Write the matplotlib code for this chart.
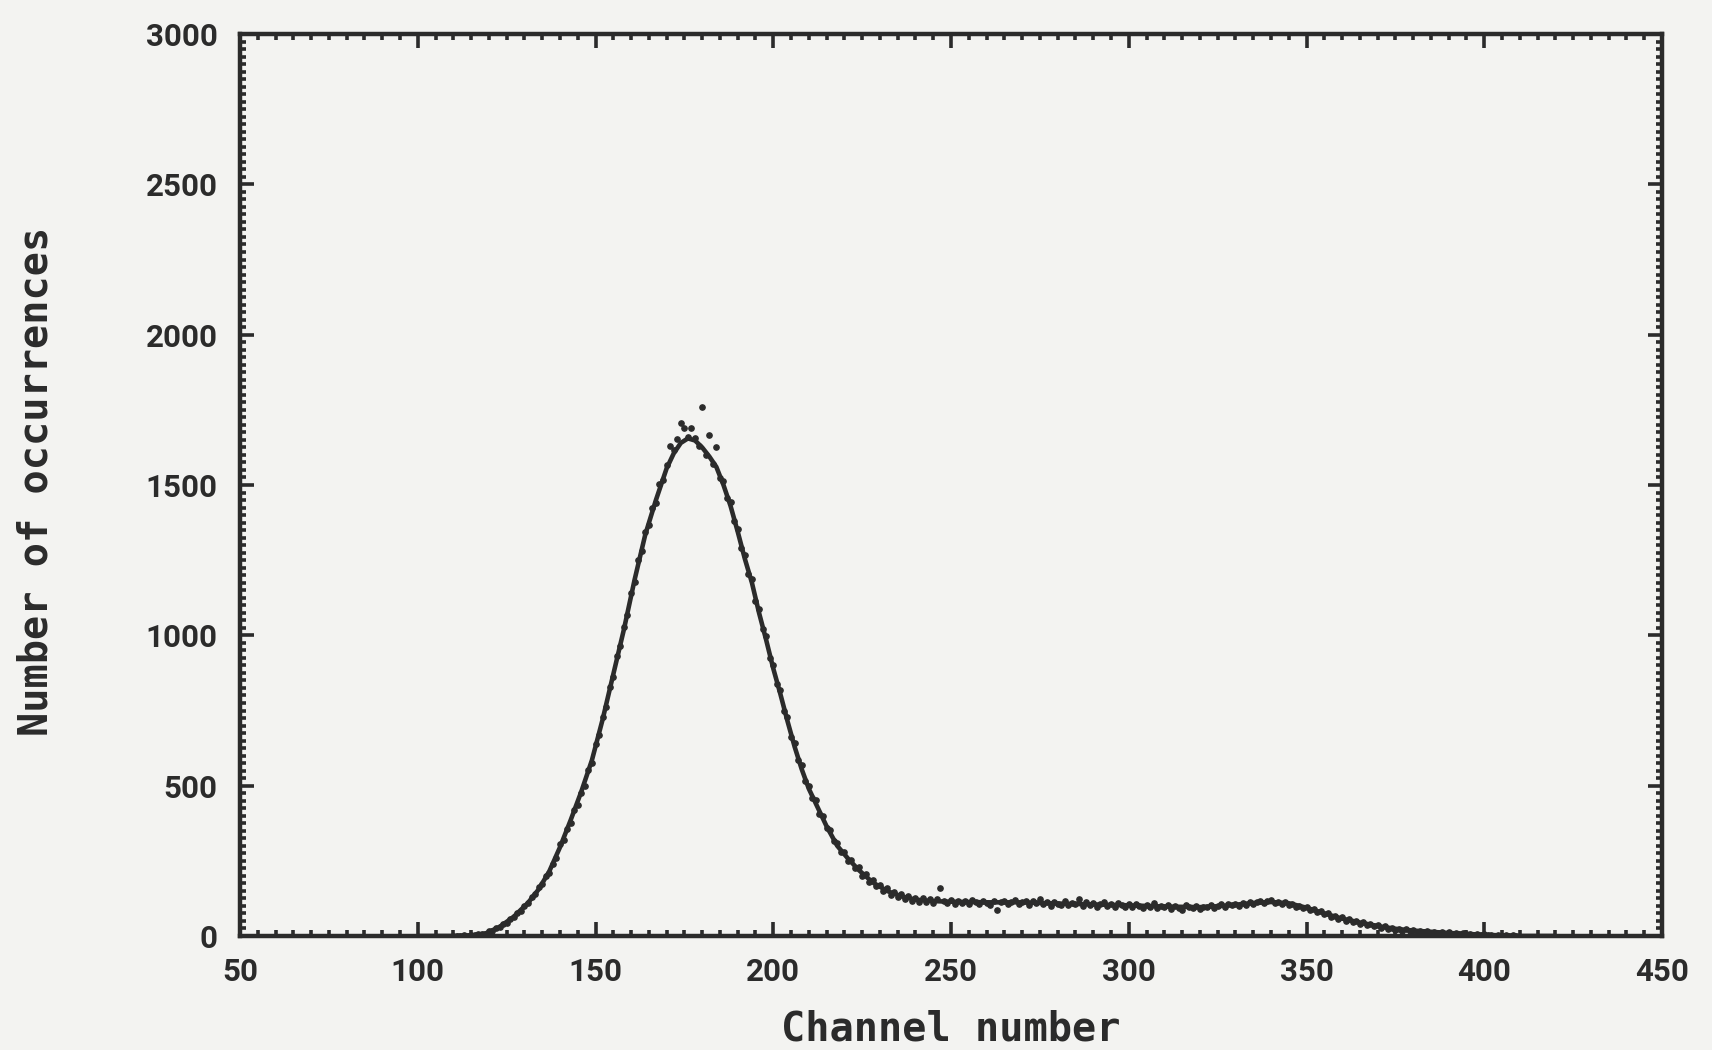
import numpy as np
import matplotlib
matplotlib.use("Agg")
import matplotlib.pyplot as plt
from matplotlib.ticker import MultipleLocator

# Fitted spectrum: channel -> count
fit_channels = [100, 110, 115, 119, 123, 127, 131, 134, 137, 140, 143, 146, 149,
                152, 155, 158, 161, 164, 167, 170, 172, 174, 176, 178, 180, 182,
                184, 186, 188, 190, 192, 194, 196, 198, 200, 202, 204, 206, 208,
                210, 212, 215, 218, 221, 224, 228, 232, 236, 240, 245, 250, 260,
                270, 280, 290, 300, 310, 320, 325, 330, 335, 340, 345, 350, 355,
                360, 365, 370, 375, 380, 385, 390, 395, 400, 405, 410, 420]
fit_counts = [0, 0, 2, 8, 30, 64, 110, 155, 215, 295, 385, 480, 585,
              720, 870, 1020, 1185, 1335, 1450, 1555, 1605, 1640, 1655, 1648, 1625, 1595,
              1560, 1500, 1430, 1345, 1255, 1175, 1075, 985, 890, 805, 715, 630, 555,
              490, 440, 365, 300, 258, 220, 178, 150, 132, 121, 116, 114, 112,
              112, 108, 105, 102, 98, 96, 99, 104, 110, 113, 109, 94, 75,
              58, 45, 33, 24, 18, 14, 10, 7, 4, 2, 0, 0]

# Measured counts, one per channel starting at channel 110
data_start = 110
data_counts = [
    0, 1, 0, 2, 1, 3, 2, 5, 7, 8,
    15, 16, 27, 29, 41, 44, 58, 62, 78, 84,
    101, 110, 131, 140, 162, 172, 201, 210, 240, 258,
    305, 318, 356, 376, 418, 437, 476, 500, 552, 574,
    638, 668, 730, 762, 828, 862, 930, 965, 1028, 1068,
    1140, 1178, 1250, 1282, 1345, 1368, 1425, 1440, 1502, 1515,
    1568, 1630, 1615, 1652, 1705, 1690, 1660, 1690, 1655, 1630,
    1758, 1600, 1666, 1570, 1627, 1522, 1512, 1458, 1442, 1380,
    1355, 1290, 1268, 1205, 1188, 1115, 1088, 1020, 998, 925,
    902, 838, 818, 750, 728, 662, 642, 585, 568, 515,
    500, 458, 452, 405, 398, 358, 352, 315, 310, 280,
    280, 250, 252, 225, 228, 200, 205, 180, 185, 165,
    170, 150, 158, 138, 147, 130, 140, 122, 132, 118,
    128, 114, 126, 112, 124, 110, 122, 158, 118, 110,
    120, 108, 118, 110, 116, 106, 120, 112, 108, 118,
    110, 104, 116, 86, 112, 118, 106, 114, 120, 108,
    112, 118, 104, 116, 110, 122, 106, 112, 100, 114,
    108, 104, 118, 102, 110, 106, 124, 100, 112, 104,
    110, 98, 106, 112, 100, 108, 96, 110, 104, 98,
    106, 96, 108, 100, 94, 104, 98, 110, 92, 100,
    96, 104, 90, 100, 94, 88, 102, 96, 92, 100,
    90, 98, 96, 104, 92, 100, 106, 98, 108, 102,
    108, 100, 110, 104, 114, 106, 112, 118, 110, 116,
    120, 110, 114, 106, 112, 104, 108, 98, 100, 92,
    96, 86, 90, 80, 82, 72, 76, 64, 68, 58,
    62, 50, 56, 46, 50, 40, 46, 36, 40, 32,
    36, 28, 32, 24, 28, 20, 24, 18, 22, 15,
    20, 14, 18, 12, 16, 11, 14, 10, 12, 8,
    12, 7, 10, 6, 9, 5, 8, 4, 6, 3,
    5, 2, 4, 1, 3, 0, 2, 1, 2, 0,
]
data_channels = np.arange(data_start, data_start + len(data_counts))

x_ticks = [50, 100, 150, 200, 250, 300, 350, 400, 450]
y_ticks = [0, 500, 1000, 1500, 2000, 2500, 3000]

paper = "#f3f3f1"
ink = "#2b2b2b"

fig = plt.figure(figsize=(17.12, 10.5), dpi=100, facecolor=paper)
ax = fig.add_axes([240 / 1712, 1 - 936 / 1050, 1422 / 1712, 902 / 1050])
ax.set_facecolor(paper)

ax.plot(fit_channels, fit_counts, color=ink, lw=3.3, solid_capstyle="round",
        solid_joinstyle="round", zorder=3)
ax.plot(data_channels, data_counts, ls="none", marker="o", ms=3.8,
        color=ink, zorder=4)

ax.set_xlim(50, 450)
ax.set_ylim(0, 3000)
ax.set_xticks(x_ticks)
ax.set_yticks(y_ticks)
ax.xaxis.set_minor_locator(MultipleLocator(5))
ax.yaxis.set_minor_locator(MultipleLocator(25))

for s in ax.spines.values():
    s.set_linewidth(3.2)
    s.set_color(ink)

ax.tick_params(which="both", direction="in", top=True, right=True,
               color=ink, width=2.6)
ax.tick_params(which="major", length=10)
ax.tick_params(which="minor", length=4.5)
ax.tick_params(axis="x", which="major", pad=15)
ax.tick_params(axis="y", which="major", pad=16)

for lab in ax.get_xticklabels() + ax.get_yticklabels():
    lab.set_fontfamily("Roboto")
    lab.set_fontweight("bold")
    lab.set_fontsize(22.5)
    lab.set_color(ink)

fig.text(951 / 1712, 1 - 1029 / 1050, "Channel number", ha="center",
         va="center", fontsize=29, fontweight="bold",
         family="DejaVu Sans Mono", color=ink)
fig.text(36 / 1712, 1 - 481 / 1050, "Number of occurrences", ha="center",
         va="center", rotation=90, fontsize=29, fontweight="bold",
         family="DejaVu Sans Mono", color=ink)

fig.savefig("out.png", dpi=100, facecolor=paper)
